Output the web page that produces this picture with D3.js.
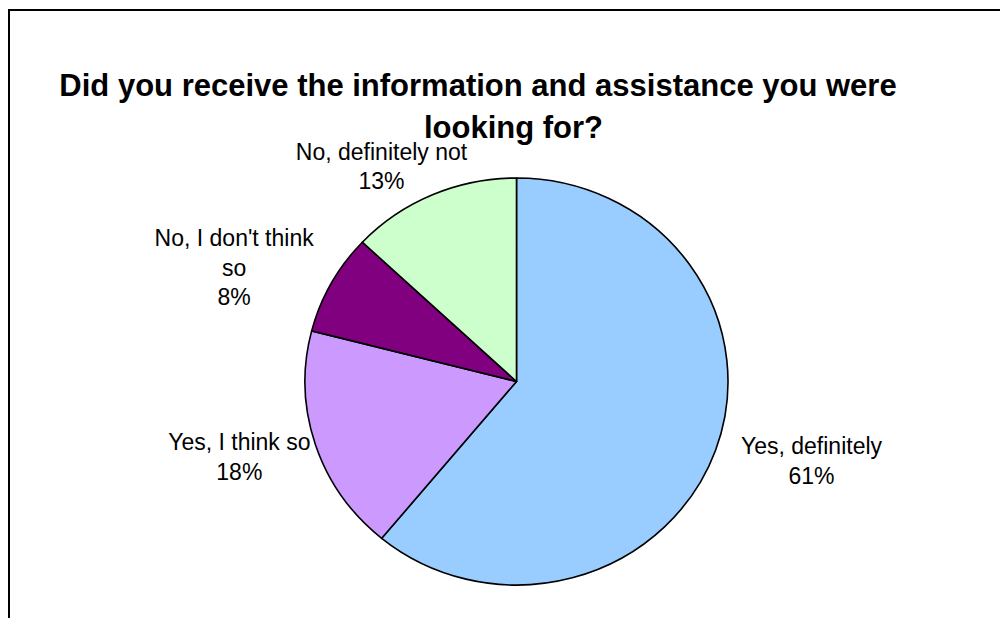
<!DOCTYPE html>
<html>
<head>
<meta charset="utf-8">
<script src="https://cdn.jsdelivr.net/npm/d3@7"></script>
<style>
  html, body { margin: 0; padding: 0; background: #fff; }
  svg { display: block; }
  text { font-family: "Liberation Sans", Arial, sans-serif; fill: #000; }
</style>
</head>
<body>
<svg id="chart" width="1000" height="618"></svg>
<script>
// Survey answers, clockwise from 12 o'clock
const categories = ["Yes, definitely", "Yes, I think so", "No, I don't think so", "No, definitely not"];
const shares = [61, 18, 8, 13];
const labelLines = [["Yes, definitely"], ["Yes, I think so"], ["No, I don't think", "so"], ["No, definitely not"]];
const sliceColors = ["#99CCFF", "#CC99FF", "#800080", "#CCFFCC"];
const titleLines = ["Did you receive the information and assistance you were", "looking for?"];

const W = 1000, H = 618;
const cx = 516.5, cy = 381.5, rx = 211.5, ry = 203.5;

// offsets of each label block from the rim point at its slice's mid-angle
const labelNudge = [[96, 4], [-76, 6], [-97, -37], [-51, -35]];

const svg = d3.select("#chart");

// chart frame
svg.append("rect")
  .attr("x", 9).attr("y", 10)
  .attr("width", W + 20).attr("height", H + 20)
  .attr("fill", "none").attr("stroke", "#000").attr("stroke-width", 2);

// title
svg.append("text").attr("x", 478).attr("y", 96)
  .attr("text-anchor", "middle").style("font-size", "31px").style("font-weight", "bold")
  .text(titleLines[0]);
svg.append("text").attr("x", 513.5).attr("y", 138)
  .attr("text-anchor", "middle").style("font-size", "31px").style("font-weight", "bold")
  .text(titleLines[1]);

const pie = d3.pie().sort(null).value(d => d)(shares);
const arc = d3.arc().innerRadius(0).outerRadius(ry);

const g = svg.append("g")
  .attr("transform", `translate(${cx},${cy}) scale(${rx / ry},1)`);

g.selectAll("path.slice")
  .data(pie)
  .join("path")
  .attr("class", "slice")
  .attr("d", arc)
  .attr("fill", (d, i) => sliceColors[i])
  .attr("stroke", "#000")
  .attr("stroke-width", 1.6)
  .attr("stroke-linejoin", "round")
  .attr("vector-effect", "non-scaling-stroke");

// data labels
pie.forEach((d, i) => {
  const mid = (d.startAngle + d.endAngle) / 2;
  const px = cx + rx * Math.sin(mid) + labelNudge[i][0];
  const py = cy - ry * Math.cos(mid) + labelNudge[i][1];
  const t = svg.append("text")
    .attr("text-anchor", "middle")
    .style("font-size", "23px");
  const lines = labelLines[i].concat([d3.format("d")(d.data) + "%"]);
  lines.forEach((ln, j) => {
    t.append("tspan").attr("x", px).attr("y", py + j * 29.5).text(ln);
  });
});
</script>
</body>
</html>
